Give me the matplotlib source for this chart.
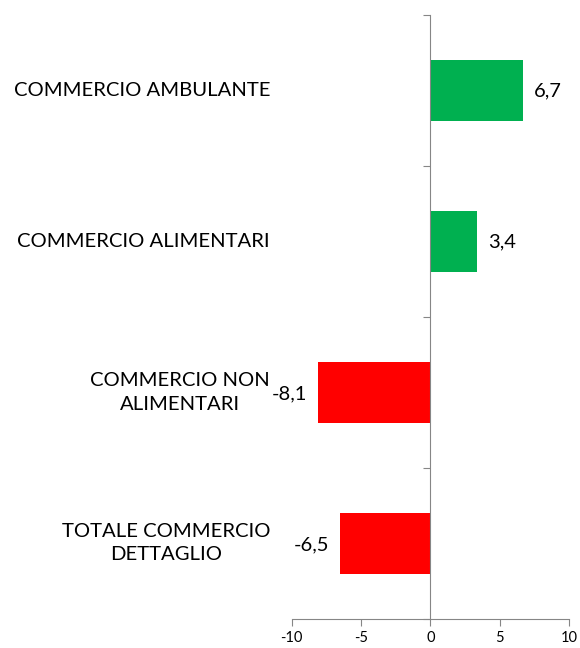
import matplotlib.pyplot as plt
import matplotlib.transforms as mtransforms
import numpy as np

# categories from top to bottom
categories = ['COMMERCIO AMBULANTE', 'COMMERCIO ALIMENTARI',
              'COMMERCIO NON\nALIMENTARI', 'TOTALE COMMERCIO\nDETTAGLIO']
values = [6.7, 3.4, -8.1, -6.5]
value_labels = ['6,7', '3,4', '-8,1', '-6,5']
xticks = [-10, -5, 0, 5, 10]

plt.rcParams['font.family'] = ['Lato', 'DejaVu Sans']

fig = plt.figure(figsize=(5.8, 6.48), dpi=100)
ax = fig.add_axes([0.503, 0.045, 0.478, 0.932])

y = np.arange(len(categories))[::-1]
colors = ['#00B050' if v > 0 else '#FF0000' for v in values]
ax.barh(y, values, height=0.4, color=colors, zorder=2)

ax.set_xlim(-10, 10)
ax.set_ylim(-0.5, len(categories) - 0.5)

# spines: x axis at bottom, y axis through zero
for s in ['top', 'right']:
    ax.spines[s].set_visible(False)
ax.spines['left'].set_position(('data', 0))
ax.spines['left'].set_color('#868686')
ax.spines['bottom'].set_color('#868686')

ax.set_xticks(xticks)
ax.set_xticklabels([str(t) for t in xticks], fontsize=10.5)
ax.tick_params(axis='x', colors='#868686', length=5, labelcolor='black')

# y ticks at the category boundaries, labels drawn by hand
ax.set_yticks(np.arange(-0.5, len(categories), 1.0))
ax.set_yticklabels([])
ax.tick_params(axis='y', colors='#868686', length=5)

trans = mtransforms.blended_transform_factory(fig.transFigure, ax.transData)
for yi, cat in zip(y, categories):
    ax.text(270 / 580, yi, cat, transform=trans, ha='right', va='center',
            multialignment='center', fontsize=14.6, linespacing=1.45)

# value labels next to the bars
for yi, v, lab in zip(y, values, value_labels):
    if v > 0:
        ax.annotate(lab, (v, yi), xytext=(8, 0), textcoords='offset points',
                    ha='left', va='center', fontsize=14.5)
    else:
        ax.annotate(lab, (v, yi), xytext=(-8, -1), textcoords='offset points',
                    ha='right', va='center', fontsize=14.5)

fig.savefig('out.png', dpi=100)
